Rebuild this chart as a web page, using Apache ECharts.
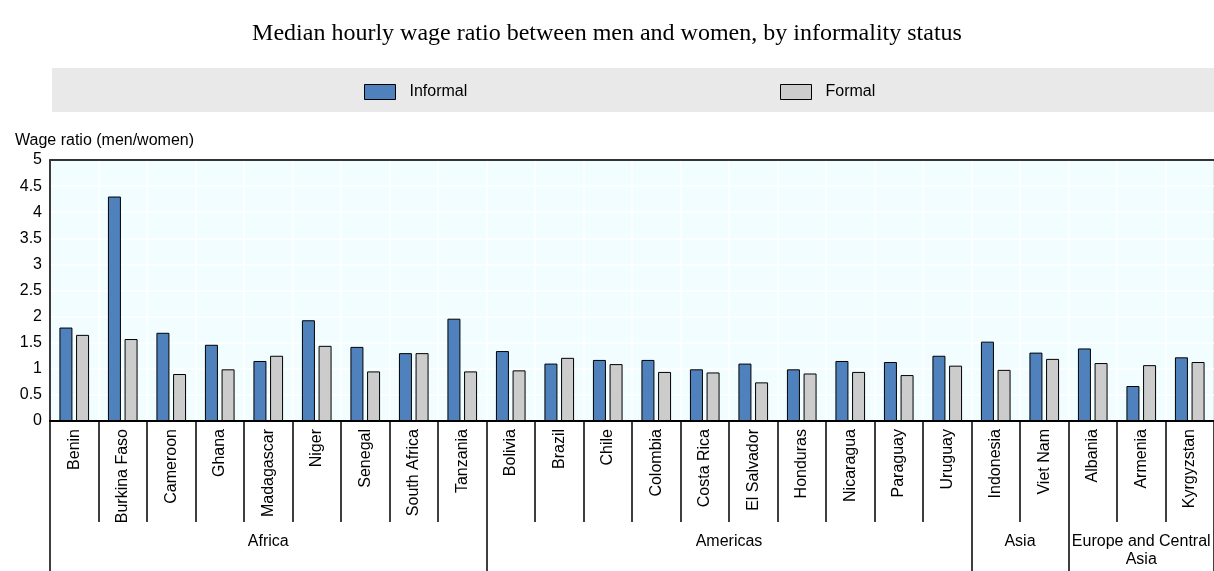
<!DOCTYPE html>
<html>
<head>
<meta charset="utf-8">
<script src="https://cdn.jsdelivr.net/npm/echarts@6/dist/echarts.min.js"></script>
<style>
  html, body { margin: 0; padding: 0; background: #fff; }
  #chart { width: 1214px; height: 571px; }
</style>
</head>
<body>
<div id="chart"></div>
<script>
// Countries, in display order, grouped by region
const countries = [
  'Benin', 'Burkina Faso', 'Cameroon', 'Ghana', 'Madagascar', 'Niger', 'Senegal', 'South Africa', 'Tanzania',
  'Bolivia', 'Brazil', 'Chile', 'Colombia', 'Costa Rica', 'El Salvador', 'Honduras', 'Nicaragua', 'Paraguay', 'Uruguay',
  'Indonesia', 'Viet Nam',
  'Albania', 'Armenia', 'Kyrgyzstan'
];

// Median hourly wage ratio (men/women)
const informal = [
  1.79, 4.30, 1.69, 1.46, 1.15, 1.93, 1.42, 1.30, 1.96,
  1.34, 1.10, 1.17, 1.17, 0.99, 1.10, 0.99, 1.15, 1.13, 1.25,
  1.52, 1.31,
  1.39, 0.67, 1.22
];
const formal = [
  1.65, 1.57, 0.90, 0.99, 1.25, 1.44, 0.95, 1.30, 0.95,
  0.97, 1.21, 1.09, 0.94, 0.93, 0.74, 0.91, 0.94, 0.88, 1.06,
  0.98, 1.19,
  1.11, 1.07, 1.13
];

// Regions and how many countries each one spans
const regions = ['Africa', 'Americas', 'Asia', 'Europe and Central\nAsia'];
const regionSizes = [9, 10, 2, 3];

const yTicks = [0, 0.5, 1, 1.5, 2, 2.5, 3, 3.5, 4, 4.5, 5];

// Region boundaries and centres on a 0..N scale laid over the category axis
const regionEdges = [0];
const regionCentres = [];
regionSizes.forEach(function (n) {
  const start = regionEdges[regionEdges.length - 1];
  regionCentres.push(start + n / 2);
  regionEdges.push(start + n);
});

const SANS = 'Arial, "Liberation Sans", sans-serif';
const chart = echarts.init(document.getElementById('chart'), null, { renderer: 'canvas' });

chart.setOption({
  animation: false,
  backgroundColor: '#ffffff',
  textStyle: { fontFamily: SANS, color: '#000' },
  title: [
    {
      text: 'Median hourly wage ratio between men and women, by informality status',
      left: 'center',
      top: 17,
      textStyle: { fontFamily: '"Times New Roman", "Liberation Serif", serif', fontWeight: 'normal', fontSize: 24, color: '#000' }
    },
    {
      text: 'Wage ratio (men/women)',
      left: 10,
      top: 128,
      textStyle: { fontFamily: SANS, fontWeight: 'normal', fontSize: 16, color: '#000' }
    }
  ],
  graphic: [
    {
      type: 'rect',
      left: 52,
      top: 68,
      shape: { width: 1162, height: 44 },
      style: { fill: '#e9e9e9' },
      z: -1
    }
  ],
  legend: [
    {
      data: ['Informal'],
      left: 364,
      top: 84,
      padding: 0,
      icon: 'rect',
      itemWidth: 31,
      itemHeight: 15,
      itemStyle: { borderColor: '#000', borderWidth: 1 },
      textStyle: { fontSize: 16, color: '#000', padding: [0, 0, 0, 9] }
    },
    {
      data: ['Formal'],
      left: 780,
      top: 84,
      padding: 0,
      icon: 'rect',
      itemWidth: 31,
      itemHeight: 15,
      itemStyle: { borderColor: '#000', borderWidth: 1 },
      textStyle: { fontSize: 16, color: '#000', padding: [0, 0, 0, 9] }
    }
  ],
  grid: {
    left: 50,
    top: 160,
    width: 1166,
    height: 261,
    show: true,
    backgroundColor: '#f2fdff',
    borderColor: '#333',
    borderWidth: 1
  },
  xAxis: [
    {
      type: 'category',
      data: countries,
      boundaryGap: true,
      axisLine: { show: true, lineStyle: { color: '#000', width: 2 } },
      axisTick: { show: true, length: 101, lineStyle: { color: '#000', width: 1.5 } },
      axisLabel: { rotate: 90, fontSize: 16, color: '#000', margin: 8, interval: 0 },
      splitLine: { show: true, lineStyle: { color: '#ffffff', width: 1.5 } }
    },
    {
      type: 'value',
      min: 0,
      max: countries.length,
      position: 'bottom',
      axisLine: { show: false },
      splitLine: { show: false },
      axisTick: {
        show: true,
        customValues: regionEdges,
        length: 150,
        lineStyle: { color: '#000', width: 1.5 }
      },
      axisLabel: {
        show: true,
        customValues: regionCentres,
        margin: 112,
        fontSize: 16,
        lineHeight: 18,
        color: '#000',
        verticalAlign: 'top',
        align: 'center',
        formatter: function (v) {
          const i = regionCentres.indexOf(v);
          return i >= 0 ? regions[i] : '';
        }
      }
    },
    {
      // frame line along the top of the plot
      type: 'category',
      data: countries,
      position: 'top',
      axisLine: { show: true, lineStyle: { color: '#333', width: 2 } },
      axisTick: { show: false },
      axisLabel: { show: false },
      splitLine: { show: false }
    }
  ],
  yAxis: {
    type: 'value',
    min: yTicks[0],
    max: yTicks[yTicks.length - 1],
    interval: 0.5,
    axisLine: { show: true, lineStyle: { color: '#000', width: 1.5 } },
    axisTick: { show: false },
    axisLabel: { fontSize: 16, color: '#000', margin: 8 },
    splitLine: { show: true, lineStyle: { color: '#ffffff', width: 1.5 } }
  },
  series: [
    {
      name: 'Informal',
      type: 'bar',
      xAxisIndex: 0,
      data: informal,
      barWidth: 13,
      barGap: '28%',
      itemStyle: { color: '#4f81bd', borderColor: '#000', borderWidth: 1 }
    },
    {
      name: 'Formal',
      type: 'bar',
      xAxisIndex: 0,
      data: formal,
      barWidth: 13,
      barGap: '28%',
      itemStyle: { color: '#cccccc', borderColor: '#000', borderWidth: 1 }
    }
  ]
});
</script>
</body>
</html>
